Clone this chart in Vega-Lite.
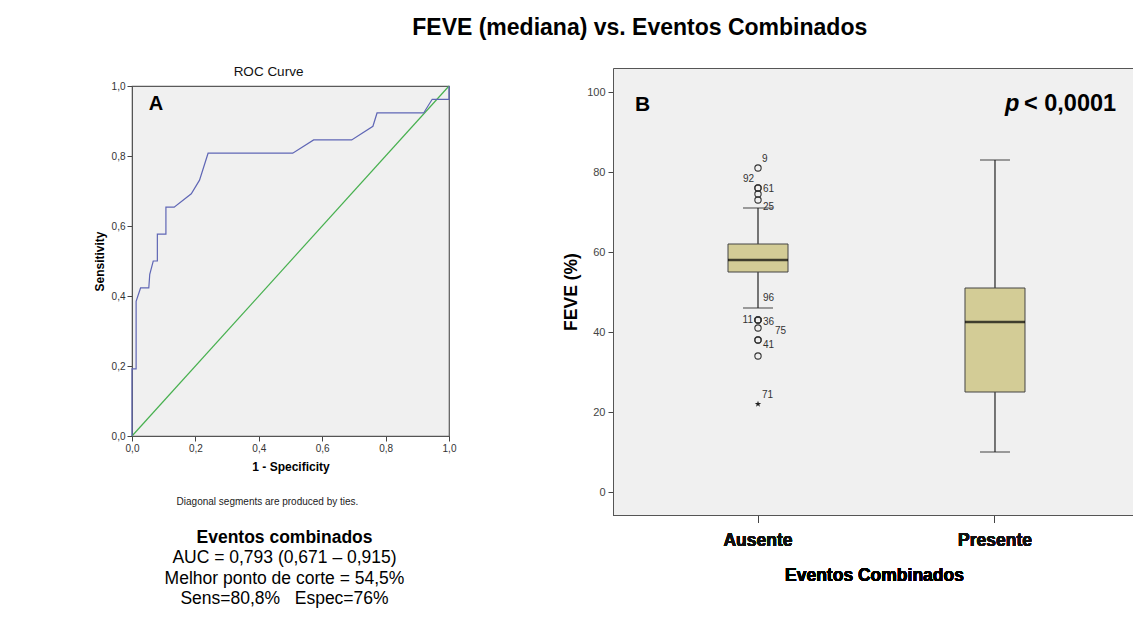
{
  "$schema": "https://vega.github.io/schema/vega-lite/v6.json",
  "background": "white",
  "padding": {"left": 92, "top": 17, "right": 0, "bottom": 0},
  "title": {
    "text": "FEVE (mediana) vs. Eventos Combinados",
    "font": "Liberation Sans",
    "fontSize": 23,
    "fontWeight": "bold",
    "color": "#000000",
    "anchor": "middle",
    "dx": 26,
    "offset": 25
  },
  "config": {
    "font": "Liberation Sans",
    "view": {"fill": "#f0f0f0", "stroke": "#5a5a5a", "strokeWidth": 1.2},
    "axis": {
      "grid": false,
      "labelFont": "Liberation Sans",
      "titleFont": "Liberation Sans",
      "domainColor": "#555555",
      "tickColor": "#444444",
      "labelColor": "#333333",
      "titleColor": "#000000",
      "titleFontWeight": "bold",
      "labelFlush": false,
      "labelOverlap": false
    }
  },
  "datasets": {
    "roc": [
      {"ordem": 1, "fpr": 0, "sens": 0},
      {"ordem": 2, "fpr": 0, "sens": 0.192},
      {"ordem": 3, "fpr": 0.013, "sens": 0.192},
      {"ordem": 4, "fpr": 0.013, "sens": 0.385},
      {"ordem": 5, "fpr": 0.027, "sens": 0.423},
      {"ordem": 6, "fpr": 0.053, "sens": 0.423},
      {"ordem": 7, "fpr": 0.056, "sens": 0.462},
      {"ordem": 8, "fpr": 0.067, "sens": 0.5},
      {"ordem": 9, "fpr": 0.08, "sens": 0.5},
      {"ordem": 10, "fpr": 0.08, "sens": 0.577},
      {"ordem": 11, "fpr": 0.107, "sens": 0.577},
      {"ordem": 12, "fpr": 0.107, "sens": 0.654},
      {"ordem": 13, "fpr": 0.133, "sens": 0.654},
      {"ordem": 14, "fpr": 0.187, "sens": 0.692},
      {"ordem": 15, "fpr": 0.213, "sens": 0.731},
      {"ordem": 16, "fpr": 0.24, "sens": 0.808},
      {"ordem": 17, "fpr": 0.507, "sens": 0.808},
      {"ordem": 18, "fpr": 0.573, "sens": 0.846},
      {"ordem": 19, "fpr": 0.693, "sens": 0.846},
      {"ordem": 20, "fpr": 0.76, "sens": 0.885},
      {"ordem": 21, "fpr": 0.773, "sens": 0.923},
      {"ordem": 22, "fpr": 0.92, "sens": 0.923},
      {"ordem": 23, "fpr": 0.947, "sens": 0.962},
      {"ordem": 24, "fpr": 1, "sens": 0.962},
      {"ordem": 25, "fpr": 1, "sens": 1}
    ],
    "referencia": [
      {"fpr": 0, "sens": 0},
      {"fpr": 1, "sens": 1}
    ],
    "resumo": [
      {"grupo": "Ausente", "minimo": 46, "q1": 55, "mediana": 58, "q3": 62, "maximo": 71},
      {"grupo": "Presente", "minimo": 10, "q1": 25, "mediana": 42.5, "q3": 51, "maximo": 83}
    ],
    "atipicos": [
      {"grupo": "Ausente", "feve": 81, "caso": 9, "tipo": "circulo"},
      {"grupo": "Ausente", "feve": 76, "caso": 92, "tipo": "circulo"},
      {"grupo": "Ausente", "feve": 76, "caso": 61, "tipo": "circulo"},
      {"grupo": "Ausente", "feve": 74.5, "tipo": "circulo"},
      {"grupo": "Ausente", "feve": 73, "caso": 25, "tipo": "circulo"},
      {"grupo": "Ausente", "feve": 43, "caso": 11, "tipo": "circulo"},
      {"grupo": "Ausente", "feve": 43, "caso": 36, "tipo": "circulo"},
      {"grupo": "Ausente", "feve": 43, "caso": 96, "tipo": "circulo"},
      {"grupo": "Ausente", "feve": 41, "caso": 75, "tipo": "circulo"},
      {"grupo": "Ausente", "feve": 38, "caso": 41, "tipo": "circulo"},
      {"grupo": "Ausente", "feve": 38, "tipo": "circulo"},
      {"grupo": "Ausente", "feve": 34, "tipo": "circulo"},
      {"grupo": "Ausente", "feve": 22, "caso": 71, "tipo": "extremo"}
    ]
  },
  "spacing": 105,
  "hconcat": [
    {
      "spacing": 1,
      "vconcat": [
        {
          "width": 317,
          "height": 8,
          "view": {"stroke": null, "fill": null},
          "data": {"values": [{"titulo": "ROC Curve"}]},
          "mark": {"type": "text", "fontSize": 13.5, "color": "#111111", "dx": -22},
          "encoding": {"text": {"field": "titulo"}}
        },
        {
          "spacing": 24,
          "vconcat": [
            {
              "width": 317,
              "height": 350,
              "layer": [
                {
                  "data": {"name": "referencia"},
                  "mark": {"type": "line", "color": "#47b04f", "strokeWidth": 1.2},
                  "encoding": {
                    "x": {
                      "field": "fpr",
                      "type": "quantitative",
                      "scale": {"domain": [0, 1], "nice": false},
                      "axis": {
                        "title": "1 - Specificity",
                        "values": [0, 0.2, 0.4, 0.6, 0.8, 1],
                        "labelExpr": "replace(format(datum.value, '.1f'), '.', ',')",
                        "tickSize": 5,
                        "labelFontSize": 10,
                        "labelPadding": 2,
                        "titleFontSize": 12,
                        "titlePadding": 8
                      }
                    },
                    "y": {
                      "field": "sens",
                      "type": "quantitative",
                      "scale": {"domain": [0, 1], "nice": false},
                      "axis": {
                        "title": "Sensitivity",
                        "values": [0, 0.2, 0.4, 0.6, 0.8, 1],
                        "labelExpr": "replace(format(datum.value, '.1f'), '.', ',')",
                        "tickSize": 5,
                        "labelFontSize": 10,
                        "labelPadding": 2,
                        "titleFontSize": 12,
                        "titlePadding": 5
                      }
                    }
                  }
                },
                {
                  "data": {"name": "roc"},
                  "mark": {"type": "line", "color": "#5f66b5", "strokeWidth": 1.2},
                  "encoding": {
                    "x": {"field": "fpr", "type": "quantitative", "title": "1 - Specificity"},
                    "y": {"field": "sens", "type": "quantitative", "title": "Sensitivity"},
                    "order": {"field": "ordem", "type": "quantitative"}
                  }
                },
                {
                  "data": {"values": [{"painel": "A"}]},
                  "mark": {"type": "text", "fontSize": 20, "fontWeight": "bold", "color": "#000000"},
                  "encoding": {
                    "x": {"datum": 0.076, "type": "quantitative"},
                    "y": {"datum": 0.95, "type": "quantitative"},
                    "text": {"field": "painel"}
                  }
                }
              ]
            },
            {
              "width": 317,
              "height": 61,
              "view": {"stroke": null, "fill": null},
              "title": {
                "text": "Diagonal segments are produced by ties.",
                "fontSize": 10,
                "fontWeight": "normal",
                "color": "#222222",
                "dx": -23,
                "offset": 22
              },
              "data": {
                "values": [
                  {"ordem": 1, "linha": "Eventos combinados", "tipo": "titulo"},
                  {"ordem": 2, "linha": "AUC  = 0,793 (0,671 – 0,915)", "tipo": "texto"},
                  {"ordem": 3, "linha": "Melhor ponto de corte = 54,5%", "tipo": "texto"},
                  {"ordem": 4, "linha": "Sens=80,8%\u00a0\u00a0 Espec=76%", "tipo": "texto"}
                ]
              },
              "encoding": {
                "y": {"field": "ordem", "type": "ordinal", "scale": {"type": "point", "padding": 0}, "axis": null},
                "text": {"field": "linha"}
              },
              "layer": [
                {
                  "transform": [{"filter": "datum.tipo == 'titulo'"}],
                  "mark": {"type": "text", "fontSize": 17.5, "fontWeight": "bold", "color": "#000000", "dx": -6}
                },
                {
                  "transform": [{"filter": "datum.tipo != 'titulo'"}],
                  "mark": {"type": "text", "fontSize": 17.5, "color": "#000000", "dx": -6}
                }
              ]
            }
          ]
        }
      ]
    },
    {
      "width": 522,
      "height": 447,
      "view": {"stroke": null, "fill": "#f0f0f0"},
      "encoding": {
        "x": {
          "field": "grupo",
          "type": "nominal",
          "title": "Eventos Combinados",
          "scale": {"domain": ["Ausente", "Presente"], "paddingInner": 0, "paddingOuter": 0.1013, "align": 0.552},
          "axis": {
            "orient": "bottom",
            "labelAngle": 0,
            "labelFontSize": 17.5,
            "labelFontWeight": "bold",
            "labelColor": "#111111",
            "titleFontSize": 17.5,
            "tickSize": 7,
            "labelPadding": 9,
            "titlePadding": 18
          }
        }
      },
      "layer": [
        {
          "data": {"name": "resumo"},
          "mark": {"type": "rule", "color": "#222222", "strokeWidth": 1.2},
          "encoding": {
            "y": {
              "field": "minimo",
              "type": "quantitative",
              "title": "FEVE (%)",
              "scale": {"domain": [-5.75, 106], "nice": false, "zero": false},
              "axis": {
                "values": [0, 20, 40, 60, 80, 100],
                "tickSize": 5,
                "labelFontSize": 11,
                "labelColor": "#444444",
                "labelPadding": 3,
                "titleFontSize": 17.5,
                "titlePadding": 6
              }
            },
            "y2": {"field": "maximo"}
          }
        },
        {
          "data": {"name": "resumo"},
          "mark": {"type": "bar", "width": 60, "fill": "#d3cc96", "stroke": "#444444", "strokeWidth": 1},
          "encoding": {
            "y": {"field": "q1", "type": "quantitative", "title": "FEVE (%)"},
            "y2": {"field": "q3"}
          }
        },
        {
          "data": {"name": "resumo"},
          "mark": {"type": "tick", "color": "#000000", "size": 60, "thickness": 2.5},
          "encoding": {
            "y": {"field": "mediana", "type": "quantitative", "title": "FEVE (%)"}
          }
        },
        {
          "data": {"name": "resumo"},
          "mark": {"type": "tick", "color": "#222222", "size": 30, "thickness": 1.2},
          "encoding": {
            "y": {"field": "minimo", "type": "quantitative", "title": "FEVE (%)"}
          }
        },
        {
          "data": {"name": "resumo"},
          "mark": {"type": "tick", "color": "#222222", "size": 30, "thickness": 1.2},
          "encoding": {
            "y": {"field": "maximo", "type": "quantitative", "title": "FEVE (%)"}
          }
        },
        {
          "data": {"name": "atipicos"},
          "transform": [{"filter": "datum.tipo == 'circulo'"}],
          "mark": {"type": "point", "shape": "circle", "filled": false, "size": 40, "color": "#333333", "strokeWidth": 1.1, "opacity": 1},
          "encoding": {
            "y": {"field": "feve", "type": "quantitative", "title": "FEVE (%)"}
          }
        },
        {
          "data": {"name": "atipicos"},
          "transform": [{"filter": "datum.tipo == 'extremo'"}],
          "mark": {
            "type": "point",
            "shape": "M0,-1L0.236,-0.325L0.951,-0.309L0.382,0.124L0.588,0.809L0,0.4L-0.588,0.809L-0.382,0.124L-0.951,-0.309L-0.236,-0.325Z",
            "filled": true,
            "size": 45,
            "color": "#222222",
            "opacity": 1
          },
          "encoding": {
            "y": {"field": "feve", "type": "quantitative", "title": "FEVE (%)"}
          }
        },
        {
          "data": {"name": "atipicos"},
          "transform": [{"filter": "isValid(datum.caso)"}],
          "mark": {
            "type": "text",
            "fontSize": 10,
            "color": "#333333",
            "baseline": "middle",
            "align": {"expr": "datum.caso == 92 || datum.caso == 11 ? 'right' : 'left'"},
            "dx": {"expr": "datum.caso == 92 ? -4 : datum.caso == 11 ? -5 : datum.caso == 75 ? 17 : datum.caso == 9 || datum.caso == 71 ? 4 : 5"},
            "dy": {"expr": "datum.caso == 9 || datum.caso == 71 || datum.caso == 92 ? -9 : datum.caso == 96 ? -22 : datum.caso == 25 ? 7 : datum.caso == 41 ? 5 : datum.caso == 75 ? 3 : datum.caso == 36 ? 2 : datum.caso == 61 ? 1 : 0"}
          },
          "encoding": {
            "y": {"field": "feve", "type": "quantitative", "title": "FEVE (%)"},
            "text": {"field": "caso", "type": "nominal"}
          }
        },
        {
          "data": {"values": [{"painel": "B"}]},
          "mark": {"type": "text", "fontSize": 21, "fontWeight": "bold", "color": "#000000", "align": "left", "baseline": "alphabetic", "dx": -123},
          "encoding": {
            "x": {"datum": "Ausente"},
            "y": {"datum": 95.25, "type": "quantitative"},
            "text": {"field": "painel"}
          }
        },
        {
          "data": {"values": [{"simbolo": "p"}]},
          "mark": {"type": "text", "fontSize": 23.5, "fontWeight": "bold", "fontStyle": "italic", "color": "#000000", "align": "left", "baseline": "alphabetic", "dx": 10},
          "encoding": {
            "x": {"datum": "Presente"},
            "y": {"datum": 95.25, "type": "quantitative"},
            "text": {"field": "simbolo"}
          }
        },
        {
          "data": {"values": [{"valor": "< 0,0001"}]},
          "mark": {"type": "text", "fontSize": 23.5, "fontWeight": "bold", "color": "#000000", "align": "left", "baseline": "alphabetic", "dx": 29},
          "encoding": {
            "x": {
              "datum": "Presente",
              "axis": {"orient": "top", "labels": false, "ticks": false, "title": null, "domain": true}
            },
            "y": {"datum": 95.25, "type": "quantitative"},
            "text": {"field": "valor"}
          }
        }
      ]
    }
  ]
}
